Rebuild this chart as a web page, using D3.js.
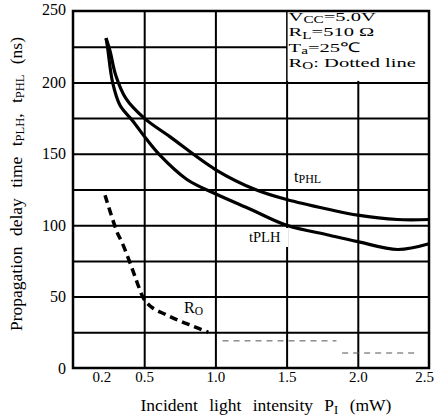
<!DOCTYPE html>
<html>
<head>
<meta charset="utf-8">
<script src="https://cdn.jsdelivr.net/npm/d3@7"></script>
<style>
  body { margin: 0; background: #fff; }
  svg text { font-family: "Liberation Serif", "Times New Roman", serif; fill: #000; }
</style>
</head>
<body>
<svg id="chart" width="435" height="419"></svg>
<script>
// tPHL curve (upper)
const tphlX = [0.232, 0.26, 0.30, 0.37, 0.5, 0.68, 1.0, 1.28, 1.5, 1.8, 2.0, 2.28, 2.5];
const tphlY = [231, 222, 205, 189, 175, 162, 139, 125, 118, 111, 107, 104, 104];
// tPLH curve (lower)
const tplhX = [0.232, 0.242, 0.278, 0.33, 0.42, 0.51, 0.61, 0.8, 1.0, 1.25, 1.5, 1.8, 2.0, 2.28, 2.5];
const tplhY = [231, 225, 200, 184, 173, 161, 149, 132, 122, 111, 100, 93, 88.5, 83, 87];
// RO dotted line
const roX = [0.225, 0.31, 0.344, 0.414, 0.45, 0.5, 0.56, 0.65, 0.75, 0.85, 0.95];
const roY = [121, 95, 88, 70, 60, 48, 42, 37.5, 33, 29, 25];
const roTailX1 = [1.05, 1.85];
const roTailY1 = [19, 19];
const roTailX2 = [1.89, 2.42];
const roTailY2 = [10.5, 10.5];

const xTicks = [0.2, 0.5, 1.0, 1.5, 2.0, 2.5];
const xGrid = [0.5, 1.0, 1.5, 2.0];
const yTicks = [0, 50, 100, 150, 200, 250];
const yGrid = [25, 50, 75, 100, 125, 150, 175, 200, 225];

const svg = d3.select("#chart");
const mLeft = 73, mRight = 429, mTop = 11, mBottom = 368;

const x = d3.scaleLinear().domain([0, 2.5]).range([mLeft, mRight]);
const y = d3.scaleLinear().domain([0, 250]).range([mBottom, mTop]);

// grid
svg.append("g")
  .attr("transform", "translate(" + mLeft + ",0)")
  .call(d3.axisLeft(y).tickValues(yGrid).tickSize(-(mRight - mLeft)).tickFormat(""))
  .call(g => g.select(".domain").remove())
  .selectAll("line").attr("stroke", "#000").attr("stroke-width", 2);

svg.append("g")
  .attr("transform", "translate(0," + mBottom + ")")
  .call(d3.axisBottom(x).tickValues(xGrid).tickSize(-(mBottom - mTop)).tickFormat(""))
  .call(g => g.select(".domain").remove())
  .selectAll("line").attr("stroke", "#000").attr("stroke-width", 2);

// legend box covers the grid in the top right
svg.append("rect")
  .attr("x", x(1.5) + 1).attr("y", y(250))
  .attr("width", x(2.5) - x(1.5) - 1).attr("height", y(200) - y(250) - 1.5)
  .attr("fill", "#fff");

// white patch behind the tPLH label
svg.append("rect").attr("x", 247).attr("y", 228).attr("width", 41).attr("height", 19).attr("fill", "#fff");

// frame
svg.append("rect")
  .attr("x", mLeft).attr("y", mTop)
  .attr("width", mRight - mLeft).attr("height", mBottom - mTop)
  .attr("fill", "none").attr("stroke", "#000").attr("stroke-width", 2.5);

// tick labels
svg.append("g")
  .attr("transform", "translate(" + mLeft + ",0)")
  .call(d3.axisLeft(y).tickValues(yTicks).tickSize(0).tickPadding(7))
  .call(g => g.select(".domain").remove())
  .call(g => g.selectAll("text").attr("font-size", 16).attr("font-family", "Liberation Serif"))
  .call(g => g.selectAll(".tick").filter(d => d === 250).select("text").attr("dy", "0.2em"));

svg.append("g")
  .attr("transform", "translate(0," + mBottom + ")")
  .call(d3.axisBottom(x).tickValues(xTicks).tickSize(0).tickPadding(3).tickFormat(d3.format(".1f")))
  .call(g => g.select(".domain").remove())
  .call(g => g.selectAll("text").attr("font-size", 15).attr("font-family", "Liberation Serif"))
  .call(g => g.selectAll(".tick").filter(d => d === 2.5).select("text").attr("dx", -5));

// curves
const line = d3.line().curve(d3.curveCatmullRom.alpha(0.5)).x(d => x(d[0])).y(d => y(d[1]));

svg.append("path")
  .datum(d3.zip(tphlX, tphlY))
  .attr("d", line)
  .attr("fill", "none").attr("stroke", "#000").attr("stroke-width", 3.2);

svg.append("path")
  .datum(d3.zip(tplhX, tplhY))
  .attr("d", line)
  .attr("fill", "none").attr("stroke", "#000").attr("stroke-width", 3.2);

svg.append("path")
  .datum(d3.zip(roX, roY))
  .attr("d", line)
  .attr("fill", "none").attr("stroke", "#000").attr("stroke-width", 3.5)
  .attr("stroke-dasharray", "8,5");

[[roTailX1, roTailY1], [roTailX2, roTailY2]].forEach(([xs, ys]) => {
  svg.append("path")
    .datum(d3.zip(xs, ys))
    .attr("d", d3.line().x(d => x(d[0])).y(d => y(d[1])))
    .attr("fill", "none").attr("stroke", "#555").attr("stroke-width", 1)
    .attr("stroke-dasharray", "6,5");
});

// legend text (wide face in the original, so stretch it)
const legend = [
  ["V", "CC", "=5.0V"],
  ["R", "L", "=510 Ω"],
  ["T", "a", "=25℃"],
  ["R", "O", ": Dotted  line"]
];
const lg = svg.append("g").attr("transform", "translate(" + (x(1.5) + 2) + ",0) scale(1.52,1)");
legend.forEach((l, i) => {
  const t = lg.append("text")
    .attr("x", 0).attr("y", 21 + i * 15.3)
    .attr("font-size", 13.5);
  t.append("tspan").text(l[0]);
  t.append("tspan").attr("font-size", 10).attr("dy", 2.5).text(l[1]);
  t.append("tspan").attr("dy", -2.5).text(l[2]);
});

// curve labels
const phl = svg.append("text").attr("x", 294).attr("y", 182).attr("font-size", 16);
phl.append("tspan").text("t");
phl.append("tspan").attr("font-size", 12).attr("dy", 1).text("PHL");

svg.append("text").attr("x", 249).attr("y", 242).attr("font-size", 14.5).text("tPLH");

const ro = svg.append("text").attr("x", 184).attr("y", 313).attr("font-size", 16);
ro.append("tspan").text("R");
ro.append("tspan").attr("font-size", 11.5).attr("dy", 2).text("O");

// axis titles
const xt = svg.append("text")
  .attr("x", 266).attr("y", 411)
  .attr("text-anchor", "middle").attr("font-size", 17.5)
  .attr("word-spacing", 7);
xt.append("tspan").text("Incident light intensity P");
xt.append("tspan").attr("font-size", 12.5).attr("dy", 3).text("I");
xt.append("tspan").attr("dy", -3).text(" (mW)");

const yt = svg.append("text")
  .attr("transform", "translate(22,184) rotate(-90)")
  .attr("text-anchor", "middle").attr("font-size", 17.5)
  .attr("word-spacing", 6);
yt.append("tspan").text("Propagation delay time t");
yt.append("tspan").attr("font-size", 12.5).attr("dy", 2).text("PLH");
yt.append("tspan").attr("dy", -2).text(", t");
yt.append("tspan").attr("font-size", 12.5).attr("dy", 2).text("PHL");
yt.append("tspan").attr("dy", -2).text(" (ns)");
</script>
</body>
</html>
